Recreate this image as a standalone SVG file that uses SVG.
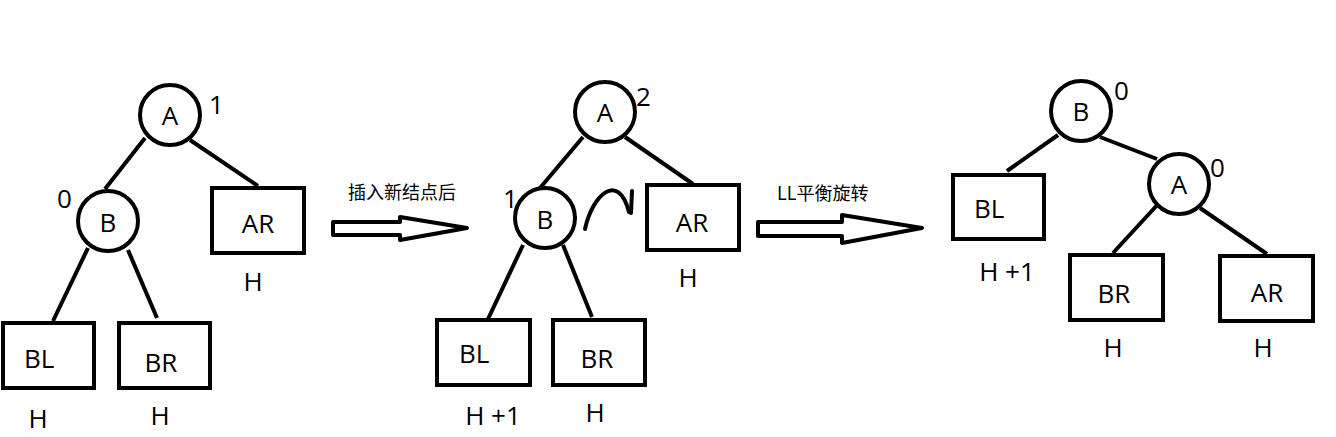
<svg xmlns="http://www.w3.org/2000/svg" width="1336" height="437" viewBox="0 0 1336 437">
<style>
.n{fill:#fff;stroke:#000;stroke-width:4}
.e{stroke:#000;stroke-width:4;fill:none}
.t{font-family:"Open Sans","Noto Sans","Liberation Sans",sans-serif;font-size:26px;fill:#000;text-anchor:middle}
.s{font-family:"Open Sans","Noto Sans","Liberation Sans",sans-serif;font-size:26px;fill:#000}
.c{font-family:"Noto Sans CJK SC","Noto Sans",sans-serif;font-size:18px;fill:#000}
.ar{fill:#fff;stroke:#000;stroke-width:4;stroke-linejoin:round}
</style>
<rect width="1336" height="437" fill="#fff"/>
<g id="connectors">
<line class="e" x1="145" y1="138" x2="105" y2="189"/>
<line class="e" x1="190" y1="140" x2="258" y2="186"/>
<line class="e" x1="88" y1="248" x2="53" y2="321"/>
<line class="e" x1="128" y1="250" x2="157" y2="318"/>
<line class="e" x1="583" y1="137" x2="540" y2="188"/>
<line class="e" x1="625" y1="137" x2="693" y2="184"/>
<line class="e" x1="523" y1="245" x2="488" y2="319"/>
<line class="e" x1="563" y1="245" x2="592" y2="317"/>
<line class="e" x1="1058" y1="135" x2="1007" y2="171"/>
<line class="e" x1="1100" y1="137" x2="1157" y2="159"/>
<line class="e" x1="1160" y1="202" x2="1113" y2="253"/>
<line class="e" x1="1200" y1="208" x2="1267" y2="254"/>
</g>
<g id="tree1">
<g id="t1-A"><circle class="n" cx="170" cy="115" r="30"/><text class="t" x="170" y="125">A</text></g>
<text class="s" x="209" y="114">1</text>
<g id="t1-B"><circle class="n" cx="108" cy="221" r="30"/><text class="t" x="108" y="232">B</text></g>
<text class="s" x="57" y="208">0</text>
<g id="t1-AR"><rect class="n" x="212" y="188" width="92" height="65"/><text class="t" x="258" y="233">AR</text><text class="t" x="253" y="291">H</text></g>
<g id="t1-BL"><rect class="n" x="3" y="323" width="91" height="65"/><text class="s" x="24" y="368">BL</text><text class="t" x="38" y="428">H</text></g>
<g id="t1-BR"><rect class="n" x="119" y="323" width="91" height="65"/><text class="t" x="161" y="372">BR</text><text class="t" x="160" y="425">H</text></g>
</g>
<g id="arrow1">
<polygon class="ar" points="333,222 400,222 400,217 467,228 400,240 400,235 333,235"/>
<text class="c" x="348" y="199">插入新结点后</text>
</g>
<g id="tree2">
<g id="t2-A"><circle class="n" cx="605" cy="112" r="30"/><text class="t" x="605" y="122">A</text></g>
<text class="s" x="636" y="106">2</text>
<g id="t2-B"><circle class="n" cx="545" cy="218" r="30"/><text class="t" x="545" y="229">B</text></g>
<text class="s" x="503" y="208">1</text>
<g id="t2-AR"><rect class="n" x="647" y="185" width="92" height="65"/><text class="t" x="692" y="232">AR</text><text class="t" x="688" y="287">H</text></g>
<g id="t2-BL"><rect class="n" x="437" y="320" width="93" height="65"/><text class="s" x="459" y="363">BL</text><text class="t" x="493" y="425">H +1</text></g>
<g id="t2-BR"><rect class="n" x="553" y="320" width="92" height="65"/><text class="t" x="597" y="368">BR</text><text class="t" x="595" y="422">H</text></g>
<path class="e" d="M585,229 C592,196 618,170 629,212" stroke-linecap="round"/>
<line class="e" x1="632" y1="191" x2="631" y2="213" stroke-linecap="round"/>
</g>
<g id="arrow2">
<polygon class="ar" points="758,222 842,222 842,215 922,228 842,243 842,236 758,236"/>
<text class="c" x="777" y="200">LL平衡旋转</text>
</g>
<g id="tree3">
<g id="t3-B"><circle class="n" cx="1081" cy="111" r="30"/><text class="t" x="1081" y="121">B</text></g>
<text class="s" x="1114" y="100">0</text>
<g id="t3-A"><circle class="n" cx="1179" cy="184" r="30"/><text class="t" x="1179" y="194">A</text></g>
<text class="s" x="1210" y="177">0</text>
<g id="t3-BL"><rect class="n" x="953" y="175" width="91" height="64"/><text class="s" x="974" y="218">BL</text><text class="t" x="1007" y="281">H +1</text></g>
<g id="t3-BR"><rect class="n" x="1070" y="255" width="93" height="65"/><text class="t" x="1114" y="303">BR</text><text class="t" x="1113" y="357">H</text></g>
<g id="t3-AR"><rect class="n" x="1220" y="256" width="93" height="65"/><text class="t" x="1267" y="302">AR</text><text class="t" x="1263" y="357">H</text></g>
</g>
</svg>
